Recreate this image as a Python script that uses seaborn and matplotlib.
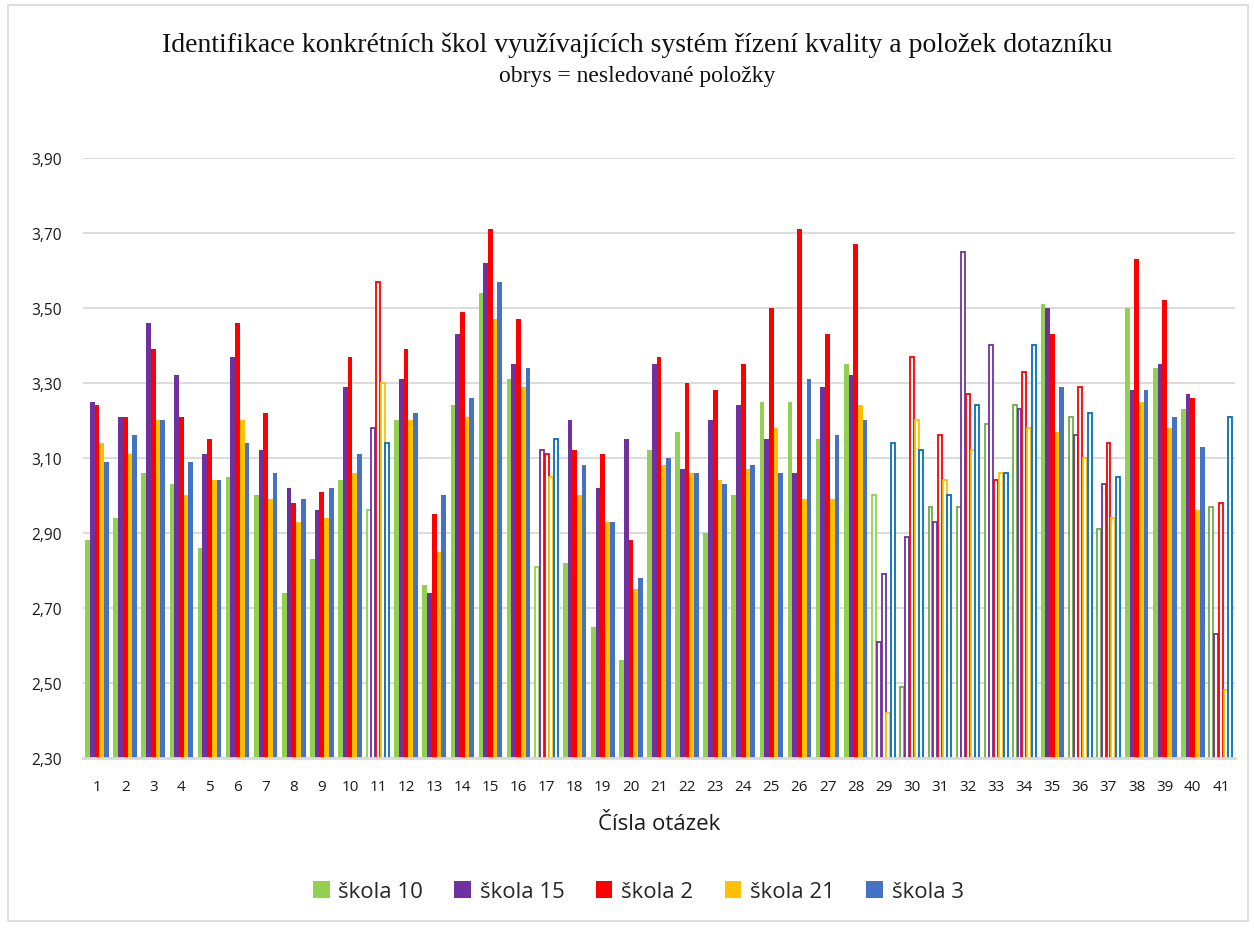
import matplotlib
matplotlib.use("Agg")
import matplotlib.pyplot as plt
from matplotlib.patches import Patch, Rectangle
from matplotlib.ticker import FuncFormatter, FixedLocator
import pandas as pd
import seaborn as sns

# ---- data -------------------------------------------------------------
questions = list(range(1, 42))
schools = ["škola 10", "škola 15", "škola 2", "škola 21", "škola 3"]

skola_10 = [2.88, 2.94, 3.06, 3.03, 2.86, 3.05, 3.00, 2.74, 2.83, 3.04,
            2.96, 3.20, 2.76, 3.24, 3.54, 3.31, 2.81, 2.82, 2.65, 2.56,
            3.12, 3.17, 2.90, 3.00, 3.25, 3.25, 3.15, 3.35, 3.00, 2.49,
            2.97, 2.97, 3.19, 3.24, 3.51, 3.21, 2.91, 3.50, 3.34, 3.23, 2.97]
skola_15 = [3.25, 3.21, 3.46, 3.32, 3.11, 3.37, 3.12, 3.02, 2.96, 3.29,
            3.18, 3.31, 2.74, 3.43, 3.62, 3.35, 3.12, 3.20, 3.02, 3.15,
            3.35, 3.07, 3.20, 3.24, 3.15, 3.06, 3.29, 3.32, 2.61, 2.89,
            2.93, 3.65, 3.40, 3.23, 3.50, 3.16, 3.03, 3.28, 3.35, 3.27, 2.63]
skola_2 = [3.24, 3.21, 3.39, 3.21, 3.15, 3.46, 3.22, 2.98, 3.01, 3.37,
           3.57, 3.39, 2.95, 3.49, 3.71, 3.47, 3.11, 3.12, 3.11, 2.88,
           3.37, 3.30, 3.28, 3.35, 3.50, 3.71, 3.43, 3.67, 2.79, 3.37,
           3.16, 3.27, 3.04, 3.33, 3.43, 3.29, 3.14, 3.63, 3.52, 3.26, 2.98]
skola_21 = [3.14, 3.11, 3.20, 3.00, 3.04, 3.20, 2.99, 2.93, 2.94, 3.06,
            3.30, 3.20, 2.85, 3.21, 3.47, 3.29, 3.05, 3.00, 2.93, 2.75,
            3.08, 3.06, 3.04, 3.07, 3.18, 2.99, 2.99, 3.24, 2.42, 3.20,
            3.04, 3.12, 3.06, 3.18, 3.17, 3.10, 2.94, 3.25, 3.18, 2.96, 2.48]
skola_3 = [3.09, 3.16, 3.20, 3.09, 3.04, 3.14, 3.06, 2.99, 3.02, 3.11,
           3.14, 3.22, 3.00, 3.26, 3.57, 3.34, 3.15, 3.08, 2.93, 2.78,
           3.10, 3.06, 3.03, 3.08, 3.06, 3.31, 3.16, 3.20, 3.14, 3.12,
           3.00, 3.24, 3.06, 3.40, 3.29, 3.22, 3.05, 3.28, 3.21, 3.13, 3.21]

# questions shown only as outlines (items not tracked)
untracked = [11, 17, 29, 30, 31, 32, 33, 34, 36, 37, 41]

y_ticks = [2.30, 2.50, 2.70, 2.90, 3.10, 3.30, 3.50, 3.70, 3.90]

title = "Identifikace konkrétních škol využívajících systém řízení kvality a položek dotazníku"
subtitle = "obrys = nesledované položky"
x_label = "Čísla otázek"

# ---- styling ----------------------------------------------------------
fill_colors = ["#92D050", "#7030A0", "#FF0000", "#FFC000", "#4472C4"]
outline_colors = ["#92D050", "#7030A0", "#FF0000", "#FFC000", "#0070C0"]
dark_green = "#70AD47"
grid_color = "#D9D9D9"
text_color = "#1a1a1a"

series = [skola_10, skola_15, skola_2, skola_21, skola_3]
df = pd.DataFrame({
    "otazka": [str(q) for s in series for q in questions],
    "skola": [name for name, s in zip(schools, series) for _ in s],
    "hodnota": [v for s in series for v in s],
})

sns.set_theme(style="white")
plt.rcParams["font.family"] = ["Open Sans", "DejaVu Sans"]

fig = plt.figure(figsize=(12.54, 9.29), dpi=100)
ax = fig.add_axes([0.0662, 0.183, 0.9186, 0.6459])

sns.barplot(data=df, x="otazka", y="hodnota", hue="skola",
            order=[str(q) for q in questions], hue_order=schools,
            palette=fill_colors, saturation=1, width=0.84,
            errorbar=None, legend=False, ax=ax, zorder=3)

# outline-only bars for untracked questions
for i, cont in enumerate(ax.containers):
    for j, bar in enumerate(cont):
        q = questions[j]
        bar.set_linewidth(0)
        if q in untracked:
            edge = outline_colors[i]
            if i == 0 and q >= 30:
                edge = dark_green
            if i == 2 and q == 29:
                edge = outline_colors[1]
            bar.set_facecolor("white")
            bar.set_edgecolor(edge)
            bar.set_linewidth(1.3)
            # keep the outline inside its slot
            w = bar.get_width()
            bar.set_x(bar.get_x() + w * 0.08)
            bar.set_width(w * 0.84)

ax.set_ylim(2.30, 3.90)
ax.set_xlim(-0.5, len(questions) - 0.5)
ax.yaxis.set_major_locator(FixedLocator(y_ticks))
ax.yaxis.set_major_formatter(FuncFormatter(lambda v, _: f"{v:.2f}".replace(".", ",")))
ax.grid(axis="y", color=grid_color, linewidth=1.3)
ax.grid(axis="x", visible=False)
ax.set_axisbelow(True)

for s in ["top", "left", "right"]:
    ax.spines[s].set_visible(False)
ax.spines["bottom"].set_color(grid_color)
ax.spines["bottom"].set_linewidth(2)
ax.spines["bottom"].set_zorder(5)

ax.tick_params(axis="y", length=0, pad=15, labelsize=11.2, labelcolor=text_color)
ax.tick_params(axis="x", length=0, pad=15, labelsize=11, labelcolor=text_color)
ax.set_xlabel(x_label, fontsize=16, labelpad=14, color=text_color)
ax.set_ylabel("")

fig.text(0.508, 0.951, title, ha="center", va="center",
         family="Liberation Serif", fontsize=20, color="#111111")
fig.text(0.508, 0.918, subtitle, ha="center", va="center",
         family="Liberation Serif", fontsize=17, color="#111111")

handles = [Patch(facecolor=c, edgecolor="none") for c in fill_colors]
fig.legend(handles, schools, loc="center", bbox_to_anchor=(0.509, 0.039),
           ncol=5, frameon=False, fontsize=16, handlelength=0.75,
           handleheight=0.75, handletextpad=0.4, columnspacing=1.4)

fig.patches.append(Rectangle((0.006, 0.008), 0.989, 0.986, transform=fig.transFigure,
                             fill=False, edgecolor=grid_color, linewidth=1.2))

fig.savefig("out.png", dpi=100, facecolor="white")
